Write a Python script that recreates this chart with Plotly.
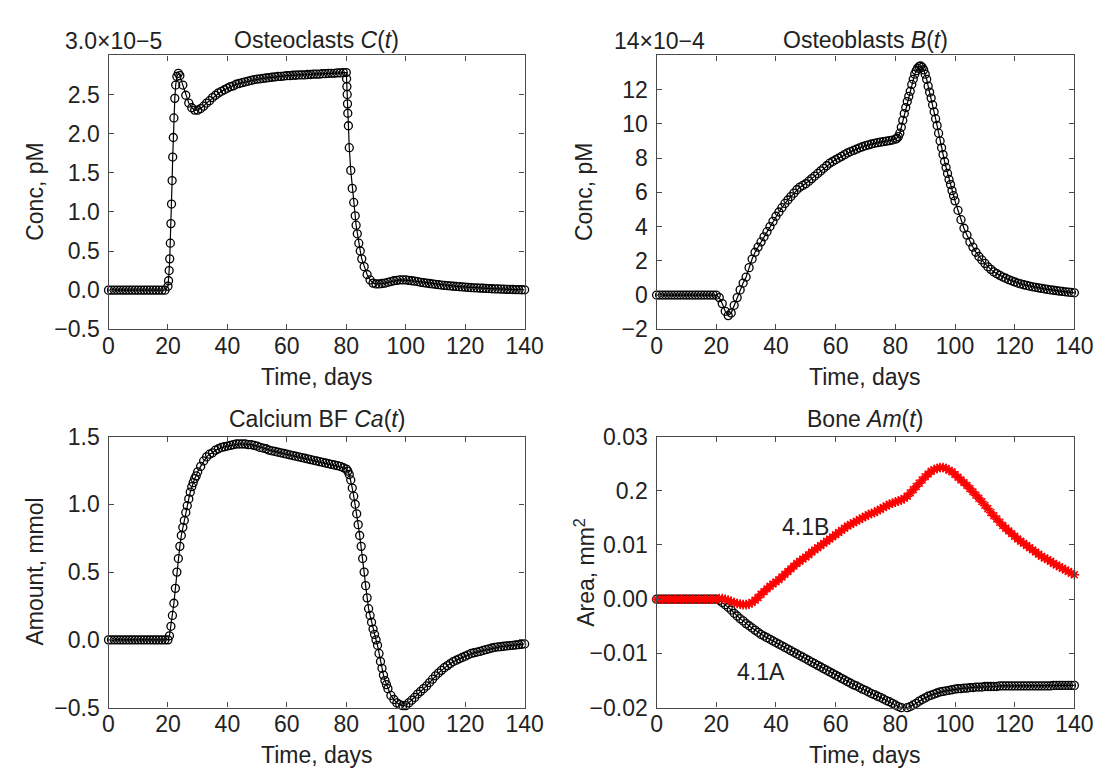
import plotly.graph_objects as go

W, H = 1102, 774
FONT = "Liberation Sans, Arial, sans-serif"
FS = 23

# ---- Osteoclasts C(t), units of 1e-5 pM
T_C = (list(range(0, 20))
       + [20, 20.2, 20.4, 20.6, 20.8, 21.0, 21.2, 21.4, 21.6, 21.8, 22.0, 22.3, 22.6, 23.0, 23.5]
       + list(range(24, 81))
       + [80.1, 80.2, 80.3, 80.4, 80.5, 80.7, 81.0, 81.5, 82.0, 82.5, 83.0, 83.3, 83.7, 84.2, 84.7, 85.2]
       + list(range(86, 141)))
C_VALS = ([0] * 20
          + [0.05, 0.12, 0.25, 0.4, 0.6, 0.85, 1.1, 1.4, 1.7, 1.95, 2.2, 2.45, 2.62, 2.73, 2.77]
          + [2.74, 2.62, 2.49, 2.39, 2.33, 2.30, 2.30,
             2.32, 2.35, 2.39, 2.42, 2.46, 2.49, 2.52, 2.54, 2.56, 2.58,
             2.60, 2.61, 2.63, 2.64, 2.65, 2.66, 2.67, 2.68, 2.69, 2.695,
             2.70, 2.705, 2.71, 2.715, 2.72, 2.725, 2.73, 2.73, 2.735, 2.74,
             2.74, 2.745, 2.745, 2.75, 2.75, 2.75, 2.755, 2.755, 2.76, 2.76,
             2.76, 2.765, 2.765, 2.77, 2.77, 2.77, 2.775, 2.775, 2.78, 2.78]
          + [2.7, 2.6, 2.5, 2.38, 2.26, 2.1, 1.82, 1.53, 1.3, 1.12, 0.95, 0.83, 0.72, 0.6, 0.5, 0.4]
          + [0.3, 0.2, 0.13, 0.09, 0.08,
             0.08, 0.085, 0.09, 0.1, 0.11, 0.12, 0.125, 0.13, 0.13, 0.13,
             0.125, 0.12, 0.115, 0.11, 0.1, 0.095, 0.09, 0.085, 0.08, 0.075,
             0.07, 0.065, 0.06, 0.058, 0.055, 0.05, 0.047, 0.044, 0.041, 0.038,
             0.035, 0.032, 0.03, 0.028, 0.026, 0.024, 0.022, 0.02, 0.018, 0.016,
             0.015, 0.013, 0.012, 0.01, 0.009, 0.008, 0.007, 0.006, 0.005, 0.004])

# ---- Osteoblasts B(t), units of 1e-4 pM
T_B = (list(range(0, 81))
       + [80.5, 81, 81.5, 82, 82.5, 83, 83.5, 84, 84.5, 85, 85.5, 86, 86.5, 87, 87.5, 88, 88.5,
          89, 89.5, 90, 90.5, 91, 91.5, 92, 92.5, 93, 93.5, 94, 94.5, 95, 95.5, 96, 96.5,
          97, 97.5, 98, 98.5, 99, 99.5]
       + list(range(100, 141)))
B_VALS = ([0] * 21
          + [-0.15, -0.5, -0.95, -1.2, -1.05, -0.6, -0.15, 0.3, 0.7, 1.05,
             1.6, 2.1, 2.5, 2.8, 3.1, 3.4, 3.7, 4.0, 4.3, 4.6,
             4.85, 5.1, 5.35, 5.55, 5.75, 5.95, 6.15, 6.3, 6.4, 6.5,
             6.65, 6.8, 6.95, 7.1, 7.25, 7.4, 7.55, 7.7, 7.8, 7.9,
             8.0, 8.1, 8.2, 8.3, 8.38, 8.45, 8.52, 8.6, 8.66, 8.72,
             8.77, 8.82, 8.86, 8.9, 8.93, 8.96, 8.99, 9.02, 9.05, 9.1]
          + [9.15, 9.25, 9.45, 9.8, 10.2, 10.6, 10.95, 11.3, 11.6, 11.9, 12.3, 12.6, 12.9, 13.1,
             13.25, 13.35, 13.38, 13.3, 13.15, 12.9, 12.6, 12.2, 11.85, 11.5, 11.1, 10.7, 10.3,
             9.9, 9.45, 9.0, 8.6, 8.2, 7.8, 7.45, 7.1, 6.75, 6.45, 6.1, 5.8]
          + [5.5, 4.95, 4.4, 3.9, 3.5, 3.1, 2.8, 2.5, 2.25, 2.05,
             1.85, 1.65, 1.5, 1.35, 1.25, 1.15, 1.05, 0.98, 0.9, 0.83,
             0.77, 0.7, 0.65, 0.6, 0.56, 0.52, 0.48, 0.45, 0.42, 0.39,
             0.36, 0.33, 0.3, 0.28, 0.26, 0.23, 0.21, 0.19, 0.17, 0.15, 0.13])

# ---- Calcium BF Ca(t), mmol
T_CA = (list(range(0, 20))
        + [20, 20.5, 21, 21.5, 22, 22.5, 23, 23.5, 24, 24.5, 25, 25.5, 26, 26.5, 27, 27.5,
           28, 28.5, 29, 29.5]
        + list(range(30, 80))
        + [80, 80.5, 81, 81.5, 82, 82.5, 83, 83.5, 84, 84.5, 85, 85.5, 86, 86.5, 87, 87.5,
           88, 88.5, 89, 89.5, 90, 90.5, 91, 91.5, 92, 92.5, 93, 93.5]
        + list(range(94, 141)))
CA_VALS = ([0] * 20
           + [0.0, 0.03, 0.1, 0.18, 0.27, 0.38, 0.5, 0.6, 0.69, 0.77, 0.83, 0.88, 0.94, 0.99,
              1.04, 1.09, 1.13, 1.16, 1.19, 1.21]
           + [1.24, 1.28, 1.32, 1.35, 1.37, 1.38, 1.40, 1.41, 1.42, 1.425,
              1.43, 1.435, 1.44, 1.445, 1.445, 1.445, 1.445, 1.44, 1.44, 1.435,
              1.43, 1.42, 1.415, 1.41, 1.40, 1.395, 1.39, 1.385, 1.38, 1.375,
              1.37, 1.365, 1.36, 1.355, 1.35, 1.345, 1.34, 1.335, 1.33, 1.325,
              1.32, 1.315, 1.31, 1.305, 1.30, 1.295, 1.29, 1.285, 1.28, 1.27]
           + [1.26, 1.245, 1.22, 1.18, 1.12, 1.06, 1.0, 0.93, 0.85, 0.77, 0.69, 0.6, 0.5, 0.4,
              0.31, 0.23, 0.18, 0.13, 0.08, 0.04, 0.0, -0.04, -0.1, -0.16, -0.21, -0.26, -0.3, -0.33]
           + [-0.36, -0.41, -0.44, -0.465, -0.478, -0.485, -0.485,
              -0.465, -0.445, -0.425, -0.40, -0.38, -0.36, -0.34, -0.315, -0.29, -0.265,
              -0.245, -0.225, -0.205, -0.19, -0.175, -0.16, -0.15, -0.14, -0.13, -0.12,
              -0.11, -0.1, -0.095, -0.09, -0.085, -0.078, -0.072, -0.066, -0.06, -0.055,
              -0.052, -0.05, -0.047, -0.045, -0.042, -0.04, -0.038, -0.035, -0.033, -0.03])

# ---- Bone Am(t), mm^2 ; 4.1A (black) and 4.1B (red)
T_AM = list(range(0, 141))
AM_A = ([0] * 21
        + [-0.0002, -0.0006, -0.001, -0.0015, -0.002, -0.0026, -0.0031, -0.0036, -0.004, -0.0045,
           -0.0049, -0.0053, -0.0057, -0.0061, -0.0065, -0.0068, -0.0071, -0.0074, -0.0077, -0.008,
           -0.0083, -0.0086, -0.0089, -0.0092, -0.0095, -0.0098, -0.0101, -0.0104, -0.0107, -0.011,
           -0.0113, -0.0116, -0.0119, -0.0122, -0.0125, -0.0128, -0.0131, -0.0134, -0.0137, -0.014,
           -0.0143, -0.0146, -0.0149, -0.0152, -0.0155, -0.0158, -0.016, -0.0163, -0.0166, -0.0168,
           -0.0171, -0.0174, -0.0176, -0.0179, -0.0181, -0.0184, -0.0187, -0.0189, -0.0192, -0.0195,
           -0.0198, -0.02, -0.0201, -0.02, -0.0198, -0.0195, -0.0192, -0.0188, -0.0185, -0.0182,
           -0.0179, -0.0177, -0.0175, -0.0173, -0.0171, -0.017, -0.0169, -0.0168, -0.0167, -0.0166,
           -0.0165, -0.0165, -0.0164, -0.0164, -0.0163, -0.0163, -0.0162, -0.0162, -0.0162, -0.0161,
           -0.0161, -0.0161, -0.0161, -0.0161, -0.016, -0.016, -0.016, -0.016, -0.016, -0.016,
           -0.016, -0.016, -0.016, -0.016, -0.016, -0.016, -0.016, -0.016, -0.016, -0.016,
           -0.016, -0.016, -0.0159, -0.0159, -0.0159, -0.0159, -0.0159, -0.0159, -0.0159, -0.0159])
AM_B = ([0] * 20
        + [0.0, 0.0001, 0.0001, 0.0, -0.0002, -0.0004, -0.0006, -0.0008, -0.0009, -0.001,
           -0.001, -0.0009, -0.0006, -0.0002, 0.0003, 0.0009, 0.0014, 0.0019, 0.0024, 0.0028,
           0.0032, 0.0036, 0.0041, 0.0046, 0.0051, 0.0056, 0.0061, 0.0066, 0.007, 0.0074,
           0.0078, 0.0082, 0.0087, 0.0091, 0.0095, 0.0099, 0.0103, 0.0107, 0.0111, 0.0115,
           0.0119, 0.0123, 0.0127, 0.0131, 0.0135, 0.0138, 0.0141, 0.0144, 0.0147, 0.015,
           0.0153, 0.0156, 0.0158, 0.016, 0.0163, 0.0166, 0.0169, 0.0172, 0.0175, 0.0177,
           0.0179, 0.0181, 0.0183, 0.0186, 0.019, 0.0196, 0.0202, 0.0208, 0.0214, 0.022,
           0.0226, 0.0231, 0.0236, 0.0239, 0.0241, 0.0243, 0.0243, 0.0241, 0.0238, 0.0235,
           0.023, 0.0225, 0.022, 0.0215, 0.021, 0.0204, 0.0198, 0.0192, 0.0186, 0.018,
           0.0173, 0.0167, 0.016, 0.0154, 0.0148, 0.0142, 0.0136, 0.0131, 0.0126, 0.0121,
           0.0116, 0.0111, 0.0107, 0.0103, 0.0099, 0.0095, 0.0091, 0.0087, 0.0083, 0.0079,
           0.0076, 0.0073, 0.007, 0.0066, 0.0063, 0.006, 0.0057, 0.0054, 0.0051, 0.0048,
           0.0045])

X_TICKS = [0, 20, 40, 60, 80, 100, 120, 140]
C_TICKS = [-0.5, 0, 0.5, 1.0, 1.5, 2.0, 2.5]
C_TICKTEXT = ["\u22120.5", "0.0", "0.5", "1.0", "1.5", "2.0", "2.5"]
B_TICKS = [-2, 0, 2, 4, 6, 8, 10, 12]
B_TICKTEXT = ["\u22122", "0", "2", "4", "6", "8", "10", "12"]
CA_TICKS = [-0.5, 0, 0.5, 1.0, 1.5]
CA_TICKTEXT = ["\u22120.5", "0.0", "0.5", "1.0", "1.5"]
AM_TICKS = [-0.02, -0.01, 0, 0.01, 0.02, 0.03]
AM_TICKTEXT = ["\u22120.02", "\u22120.01", "0.00", "0.01", "0.2", "0.03"]

# panel boxes in pixels (left, right, top, bottom)
LEFT = (96.7, 522.5)
RIGHT = (657.5, 1085)
TOP = (35.5, 319)
BOTTOM = (430, 710.5)


def px(x):
    return x / W


def py(y):
    return 1 - y / H


def circle_trace(x, y, xa, ya):
    return go.Scatter(
        x=x, y=y, xaxis=xa, yaxis=ya, mode="lines+markers",
        line=dict(color="black", width=1.2),
        marker=dict(symbol="circle-open", size=8, color="black", line=dict(width=1.3)),
        cliponaxis=False, showlegend=False,
    )


fig = go.Figure()
fig.add_trace(circle_trace(T_C, C_VALS, "x", "y"))
fig.add_trace(circle_trace(T_B, B_VALS, "x2", "y2"))
fig.add_trace(circle_trace(T_CA, CA_VALS, "x3", "y3"))
fig.add_trace(circle_trace(T_AM, AM_A, "x4", "y4"))
fig.add_trace(go.Scatter(
    x=T_AM, y=AM_B, xaxis="x4", yaxis="y4", mode="lines+markers",
    line=dict(color="red", width=1.5),
    marker=dict(symbol="asterisk-open", size=8, color="red", line=dict(width=1.6, color="red")),
    cliponaxis=False, showlegend=False,
))

axis_common = dict(
    showline=True, linecolor="#4a4a4a", linewidth=1.4, mirror="allticks",
    ticks="inside", ticklen=5, tickwidth=1.2, tickcolor="#4a4a4a",
    showgrid=False, zeroline=False, tickfont=dict(family=FONT, size=FS, color="#222"),
)

layout = dict(
    width=W, height=H, margin=dict(l=0, r=0, t=0, b=0),
    paper_bgcolor="white", plot_bgcolor="white",
    font=dict(family=FONT, size=FS, color="#222"),
)

panels = [
    ("", LEFT, TOP, C_TICKS, C_TICKTEXT, [-0.5, 3.0]),
    ("2", RIGHT, TOP, B_TICKS, B_TICKTEXT, [-2, 14]),
    ("3", LEFT, BOTTOM, CA_TICKS, CA_TICKTEXT, [-0.5, 1.5]),
    ("4", RIGHT, BOTTOM, AM_TICKS, AM_TICKTEXT, [-0.02, 0.03]),
]
for n, (x0, x1), (y0, y1), yt, ytt, yr in panels:
    layout["xaxis" + n] = dict(
        axis_common, domain=[px(x0), px(x1)], range=[0, 140],
        tickvals=X_TICKS, ticktext=[str(v) for v in X_TICKS],
        anchor="y" + n, ticklabelstandoff=-4,
    )
    layout["yaxis" + n] = dict(
        axis_common, domain=[py(y1), py(y0)], range=yr,
        tickvals=yt, ticktext=ytt, anchor="x" + n, ticklabelstandoff=3,
    )
fig.update_layout(**layout)


def label(text, x, y, xanchor="center", textangle=0, **kw):
    fig.add_annotation(
        text=text, x=x, y=y, xref=kw.pop("xref", "paper"), yref=kw.pop("yref", "paper"),
        xanchor=xanchor, yanchor="middle", showarrow=False, textangle=textangle,
        font=dict(family=FONT, size=FS, color="#222"), **kw,
    )


lc = (LEFT[0] + LEFT[1]) / 2
rc = (RIGHT[0] + RIGHT[1]) / 2
label("Osteoclasts <i>C</i>(<i>t</i>)", px(lc), py(20))
label("Osteoblasts <i>B</i>(<i>t</i>)", px(rc), py(20))
label("Calcium BF <i>Ca</i>(<i>t</i>)", px(lc), py(412))
label("Bone <i>Am</i>(<i>t</i>)", px(rc), py(412))
label("3.0\u00d710\u22125", px(50), py(21), xanchor="left")
label("14\u00d710\u22124", px(612), py(21), xanchor="left")

for x in (lc, rc):
    label("Time, days", px(x), py(368))
    label("Time, days", px(x), py(759))
label("Conc, pM", px(22), py((TOP[0] + TOP[1]) / 2), textangle=-90)
label("Conc, pM", px(584), py((TOP[0] + TOP[1]) / 2), textangle=-90)
label("Amount, mmol", px(22), py((BOTTOM[0] + BOTTOM[1]) / 2), textangle=-90)
label("Area, mm<sup>2</sup>", px(584), py((BOTTOM[0] + BOTTOM[1]) / 2), textangle=-90)

label("4.1B", 50, 0.0134, xref="x4", yref="y4")
label("4.1A", 35, -0.0134, xref="x4", yref="y4")

fig.write_html("out.html")
